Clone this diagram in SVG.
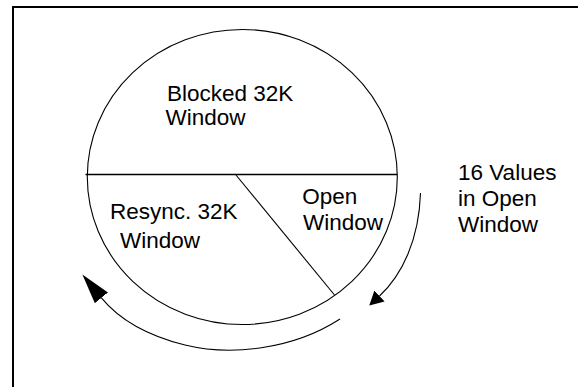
<svg xmlns="http://www.w3.org/2000/svg" width="578" height="387" viewBox="0 0 578 387">
<style>
text{font-family:"Liberation Sans",Arial,sans-serif;font-size:22.5px;fill:#000}
.ln{fill:none;stroke:#000;stroke-width:1.1}
</style>
<defs>
<marker id="ahL" markerUnits="userSpaceOnUse" viewBox="0 0 30 17" refX="0" refY="8.5" markerWidth="30" markerHeight="17" orient="auto"><path d="M0,0 L30,8.5 L0,17 z" fill="#000"/></marker>
<marker id="ahR" markerUnits="userSpaceOnUse" viewBox="0 0 14 15" refX="0" refY="7.5" markerWidth="14" markerHeight="15" orient="auto"><path d="M0,0 L14,7.5 L0,15 z" fill="#000"/></marker>
</defs>
<rect width="578" height="387" fill="#fff"/>
<path d="M13,387 V7 H578" fill="none" stroke="#000" stroke-width="2"/>
<g id="disk">
<ellipse cx="242.3" cy="177" rx="155" ry="147.5" class="ln"/>
<line x1="85.5" y1="174.5" x2="397.3" y2="174.5" stroke="#000" stroke-width="1.7"/>
<line x1="236" y1="175" x2="334.5" y2="295" class="ln"/>
</g>
<g id="blocked"><text x="167" y="100.5">Blocked 32K</text><text x="165.5" y="125">Window</text></g>
<g id="resync"><text x="110" y="219">Resync. 32K</text><text x="120" y="248">Window</text></g>
<g id="open"><text x="302.2" y="203.5">Open</text><text x="303" y="230">Window</text></g>
<g id="values"><text x="458" y="180">16 Values</text><text x="458" y="205.5">in Open</text><text x="458" y="232">Window</text></g>
<g id="connectors">
<path d="M420.5,193 C419,240 402,275 379.5,296" class="ln" marker-end="url(#ahR)"/>
<path d="M340,319 C292,350 230,356 185,345 C145,335 118,318 101.4,297.8" class="ln" marker-end="url(#ahL)"/>
</g>
</svg>
